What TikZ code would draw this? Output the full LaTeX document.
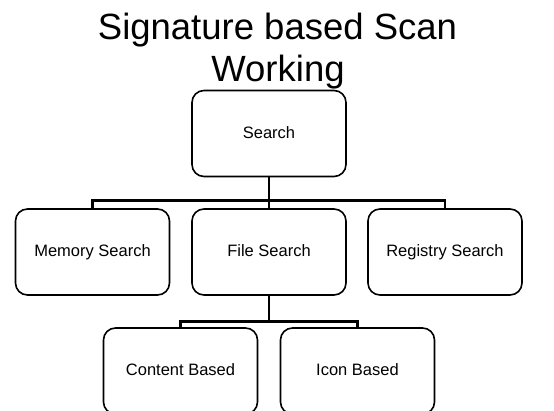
\documentclass[tikz,border=0pt]{standalone}
\usepackage{fontspec}
\setmainfont{Liberation Sans}
\usetikzlibrary{positioning}
\tikzset{
  box/.style={draw, line width=1.6pt, rounded corners=12pt, minimum width=154pt,
    minimum height=86pt, text height=1em, text depth=0pt,
    font=\fontsize{16.5}{19}\selectfont},
  link/.style={line width=2.6pt},
  heading/.style={anchor=base, font=\fontsize{36.5}{42}\selectfont}
}
\begin{document}
\begin{tikzpicture}[x=1pt,y=-1pt]
    \clip (0,0) rectangle (554,411);
    \fill[white] (0,0) rectangle (554,411);
    % heading
    \node[heading] (title) at (277.5,40) {Signature based Scan};
    \node[heading] (subtitle) at (278,82) {Working};
    % top
    \node[box] (search) at (269,133.5) {Search};
    % second row
    \node[box] (file) at (269,252) {File Search};
    \node[box] (memory) at (92.5,252) {Memory Search};
    \node[box] (registry) at (445,252) {Registry Search};
    % third row
    \node[box] (content) at (180.5,371) {Content Based};
    \node[box] (icon) at (357.5,371) {Icon Based};
    
    \draw[link] (search.south) -- (file.north); %trunk
    \draw[link] (search.south) -- ++(0,23) -| (memory.north);
    \draw[link] (search.south) -- ++(0,23) -| (registry.north);
    \draw[link] (file.south) -- ++(0,26) -| (content.north);
    \draw[link] (file.south) -- ++(0,26) -| (icon.north);
\end{tikzpicture}
\end{document}
